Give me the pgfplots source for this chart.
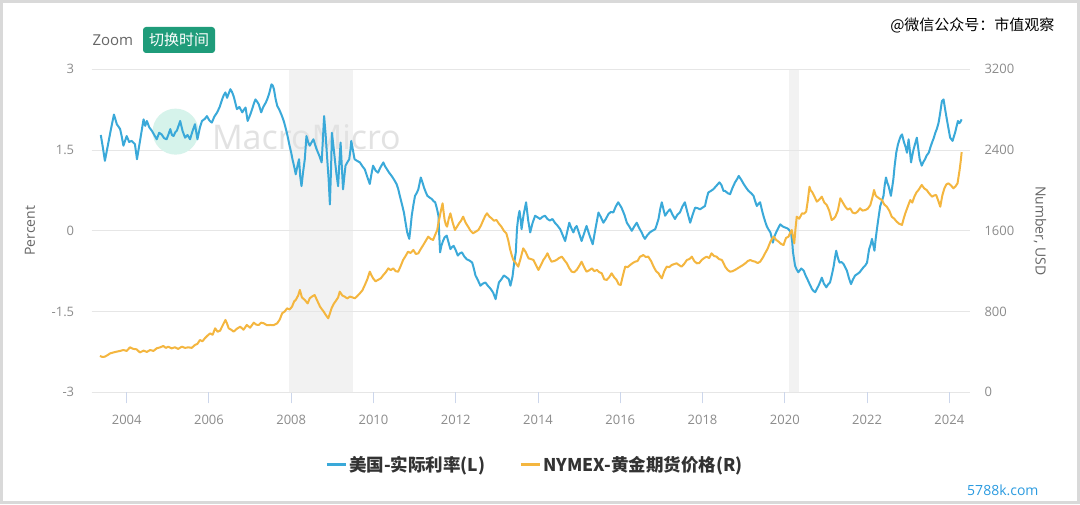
\documentclass[border=0pt]{standalone}
\usepackage{fontspec}
\setmainfont{Open Sans}
\newfontfamily\cjk{Noto Sans CJK SC}
\usepackage{pgfplots}
\pgfplotsset{compat=1.18}

\definecolor{rateblue}{RGB}{58,169,217}
\definecolor{goldline}{RGB}{244,182,63}
\definecolor{gridgray}{RGB}{230,230,230}
\definecolor{shadegray}{RGB}{242,242,242}
\definecolor{labelgray}{RGB}{140,140,140}
\definecolor{titlegray}{RGB}{102,102,102}
\definecolor{tickgray}{RGB}{204,214,235}
\definecolor{btngreen}{RGB}{31,156,122}
\definecolor{framegray}{RGB}{217,217,217}
\definecolor{siteblue}{RGB}{43,155,224}
\definecolor{mint}{RGB}{214,243,235}
\definecolor{wmgray}{RGB}{226,226,226}

% US real interest rate (L), percent
\pgfplotstableread{
x y
2003.37 1.78
2003.42 1.55
2003.47 1.30
2003.55 1.62
2003.62 1.90
2003.69 2.16
2003.76 1.98
2003.84 1.89
2003.88 1.75
2003.92 1.58
2004.00 1.76
2004.06 1.65
2004.12 1.67
2004.20 1.61
2004.25 1.33
2004.33 1.70
2004.41 2.07
2004.45 1.95
2004.49 2.04
2004.55 1.92
2004.61 1.86
2004.67 1.78
2004.73 1.70
2004.79 1.82
2004.85 1.79
2004.91 1.72
2004.97 1.70
2005.02 1.80
2005.06 1.89
2005.10 1.78
2005.14 1.76
2005.18 1.83
2005.22 1.86
2005.26 1.95
2005.30 2.04
2005.36 1.85
2005.42 1.73
2005.48 1.78
2005.54 1.70
2005.60 1.85
2005.66 1.98
2005.72 1.70
2005.78 1.92
2005.83 2.04
2005.90 2.08
2005.95 2.13
2006.01 2.05
2006.07 2.01
2006.13 2.12
2006.20 2.20
2006.26 2.30
2006.32 2.44
2006.36 2.52
2006.40 2.57
2006.44 2.47
2006.48 2.55
2006.52 2.63
2006.56 2.58
2006.60 2.50
2006.64 2.38
2006.68 2.26
2006.74 2.30
2006.81 2.20
2006.85 2.25
2006.89 2.29
2006.94 2.04
2007.00 2.15
2007.05 2.26
2007.09 2.36
2007.13 2.44
2007.17 2.40
2007.21 2.35
2007.27 2.20
2007.32 2.30
2007.38 2.38
2007.42 2.45
2007.46 2.54
2007.52 2.72
2007.55 2.70
2007.58 2.63
2007.62 2.45
2007.66 2.32
2007.71 2.25
2007.76 2.16
2007.80 2.08
2007.83 2.01
2007.90 1.80
2007.96 1.58
2008.00 1.45
2008.03 1.33
2008.07 1.20
2008.11 1.05
2008.15 1.20
2008.19 1.33
2008.22 1.00
2008.25 0.83
2008.29 1.10
2008.33 1.33
2008.37 1.76
2008.41 1.65
2008.45 1.58
2008.50 1.65
2008.54 1.70
2008.58 1.60
2008.62 1.51
2008.68 1.40
2008.74 1.27
2008.77 1.70
2008.80 2.13
2008.84 1.75
2008.87 1.39
2008.91 0.95
2008.94 0.49
2008.97 1.20
2008.99 1.82
2009.03 1.55
2009.06 1.33
2009.10 1.05
2009.14 0.83
2009.17 1.25
2009.20 1.64
2009.23 1.20
2009.26 0.77
2009.29 1.00
2009.32 1.21
2009.37 1.28
2009.41 1.33
2009.44 1.50
2009.46 1.67
2009.50 1.50
2009.54 1.33
2009.60 1.30
2009.67 1.27
2009.73 1.20
2009.79 1.14
2009.85 1.00
2009.91 0.87
2009.95 1.05
2009.99 1.21
2010.05 1.12
2010.11 1.08
2010.17 1.18
2010.24 1.27
2010.28 1.20
2010.33 1.14
2010.38 1.08
2010.44 1.02
2010.50 0.95
2010.56 0.87
2010.60 0.78
2010.64 0.65
2010.69 0.50
2010.74 0.34
2010.78 0.15
2010.82 -0.03
2010.87 -0.15
2010.90 0.05
2010.93 0.28
2010.97 0.48
2011.01 0.65
2011.05 0.70
2011.09 0.77
2011.12 0.88
2011.15 0.99
2011.19 0.90
2011.23 0.80
2011.27 0.72
2011.31 0.65
2011.36 0.62
2011.42 0.59
2011.46 0.55
2011.50 0.53
2011.54 0.42
2011.58 0.28
2011.60 -0.10
2011.62 -0.40
2011.65 -0.28
2011.69 -0.19
2011.73 -0.12
2011.78 -0.09
2011.82 -0.20
2011.87 -0.34
2011.91 -0.30
2011.95 -0.28
2012.00 -0.36
2012.05 -0.46
2012.10 -0.42
2012.15 -0.40
2012.21 -0.48
2012.27 -0.53
2012.33 -0.55
2012.40 -0.59
2012.44 -0.70
2012.48 -0.83
2012.54 -0.92
2012.60 -1.02
2012.66 -0.98
2012.72 -0.96
2012.78 -1.02
2012.85 -1.08
2012.91 -1.15
2012.97 -1.27
2013.01 -1.10
2013.05 -0.96
2013.11 -0.90
2013.17 -0.83
2013.23 -0.86
2013.29 -0.90
2013.33 -1.02
2013.38 -0.85
2013.42 -0.60
2013.46 -0.40
2013.49 0.05
2013.52 0.25
2013.55 0.37
2013.58 0.20
2013.60 0.03
2013.65 0.30
2013.71 0.53
2013.76 0.20
2013.81 -0.03
2013.87 0.15
2013.93 0.28
2013.99 0.25
2014.05 0.22
2014.11 0.26
2014.17 0.28
2014.23 0.22
2014.29 0.19
2014.35 0.22
2014.41 0.15
2014.47 0.10
2014.54 0.03
2014.60 -0.08
2014.66 -0.19
2014.71 -0.02
2014.76 0.15
2014.81 0.05
2014.86 -0.03
2014.90 0.05
2014.94 0.09
2015.00 -0.05
2015.06 -0.19
2015.12 -0.05
2015.18 0.09
2015.25 -0.08
2015.33 -0.25
2015.40 0.05
2015.47 0.34
2015.53 0.25
2015.59 0.15
2015.65 0.22
2015.71 0.31
2015.77 0.35
2015.83 0.34
2015.89 0.45
2015.95 0.53
2016.03 0.43
2016.10 0.30
2016.16 0.15
2016.22 0.08
2016.28 0.00
2016.34 0.08
2016.40 0.15
2016.46 0.05
2016.52 -0.03
2016.56 -0.10
2016.60 -0.15
2016.66 -0.08
2016.72 -0.03
2016.78 0.00
2016.85 0.03
2016.89 0.12
2016.93 0.22
2016.97 0.40
2017.01 0.53
2017.05 0.40
2017.09 0.28
2017.15 0.35
2017.21 0.40
2017.27 0.30
2017.33 0.22
2017.39 0.30
2017.45 0.34
2017.51 0.45
2017.57 0.53
2017.63 0.35
2017.70 0.15
2017.76 0.30
2017.82 0.43
2017.88 0.42
2017.94 0.40
2018.00 0.43
2018.06 0.46
2018.10 0.60
2018.14 0.71
2018.20 0.74
2018.26 0.77
2018.33 0.83
2018.41 0.90
2018.46 0.85
2018.51 0.74
2018.55 0.74
2018.61 0.70
2018.67 0.68
2018.73 0.80
2018.79 0.90
2018.84 0.96
2018.88 1.02
2018.94 0.95
2019.00 0.87
2019.06 0.80
2019.12 0.74
2019.18 0.70
2019.24 0.65
2019.28 0.55
2019.32 0.46
2019.36 0.50
2019.40 0.53
2019.44 0.40
2019.48 0.28
2019.52 0.18
2019.56 0.09
2019.60 0.03
2019.65 -0.03
2019.68 -0.12
2019.71 -0.22
2019.75 -0.10
2019.79 -0.03
2019.84 0.05
2019.89 0.12
2019.95 0.08
2020.01 0.06
2020.05 0.05
2020.09 0.03
2020.15 -0.03
2020.18 -0.20
2020.20 -0.40
2020.23 -0.55
2020.25 -0.65
2020.29 -0.72
2020.33 -0.77
2020.40 -0.70
2020.46 -0.74
2020.50 -0.82
2020.55 -0.90
2020.61 -1.00
2020.66 -1.08
2020.70 -1.12
2020.74 -1.14
2020.78 -1.08
2020.82 -1.02
2020.86 -0.95
2020.90 -0.87
2020.95 -0.98
2021.01 -1.05
2021.05 -1.00
2021.10 -0.96
2021.15 -0.80
2021.19 -0.65
2021.22 -0.50
2021.25 -0.37
2021.29 -0.50
2021.33 -0.59
2021.38 -0.58
2021.43 -0.62
2021.47 -0.68
2021.51 -0.74
2021.56 -0.88
2021.61 -0.99
2021.66 -0.90
2021.71 -0.83
2021.77 -0.80
2021.82 -0.77
2021.87 -0.72
2021.91 -0.68
2021.96 -0.64
2022.00 -0.59
2022.05 -0.34
2022.09 -0.25
2022.12 -0.15
2022.15 -0.26
2022.18 -0.37
2022.21 -0.15
2022.24 0.03
2022.28 0.25
2022.32 0.46
2022.36 0.55
2022.40 0.65
2022.43 0.85
2022.46 0.99
2022.49 0.90
2022.52 0.84
2022.55 0.75
2022.58 0.65
2022.61 0.80
2022.64 0.96
2022.67 1.20
2022.71 1.45
2022.75 1.60
2022.79 1.70
2022.82 1.76
2022.85 1.79
2022.88 1.70
2022.90 1.64
2022.94 1.55
2022.97 1.45
2023.01 1.70
2023.04 1.50
2023.07 1.27
2023.10 1.40
2023.13 1.51
2023.17 1.62
2023.21 1.73
2023.25 1.50
2023.28 1.33
2023.33 1.21
2023.37 1.28
2023.41 1.33
2023.45 1.40
2023.50 1.45
2023.54 1.55
2023.58 1.64
2023.62 1.72
2023.66 1.82
2023.70 1.90
2023.74 2.01
2023.78 2.20
2023.82 2.41
2023.86 2.44
2023.90 2.25
2023.94 2.07
2023.98 1.90
2024.02 1.73
2024.05 1.70
2024.08 1.67
2024.11 1.75
2024.14 1.82
2024.18 1.95
2024.21 2.04
2024.24 2.00
2024.26 2.01
2024.30 2.07
}\ratetable

% NYMEX gold futures (R), USD
\pgfplotstableread{
x y
2003.35 360
2003.41 350
2003.47 353
2003.54 370
2003.60 386
2003.68 395
2003.76 403
2003.84 410
2003.92 419
2004.00 410
2004.08 446
2004.16 430
2004.24 426
2004.32 395
2004.41 413
2004.49 400
2004.57 419
2004.65 410
2004.73 436
2004.81 445
2004.89 459
2004.95 440
2005.01 452
2005.09 435
2005.17 446
2005.25 430
2005.34 452
2005.42 440
2005.50 446
2005.58 440
2005.66 469
2005.72 480
2005.78 518
2005.84 505
2005.90 535
2005.96 560
2006.03 584
2006.09 570
2006.15 634
2006.21 600
2006.27 611
2006.33 660
2006.40 717
2006.44 680
2006.48 634
2006.54 620
2006.60 601
2006.68 630
2006.76 650
2006.84 620
2006.92 667
2007.00 640
2007.09 690
2007.15 670
2007.21 667
2007.27 690
2007.33 684
2007.41 665
2007.49 667
2007.57 665
2007.66 684
2007.72 720
2007.78 783
2007.84 800
2007.90 832
2007.96 820
2008.02 849
2008.07 900
2008.11 915
2008.17 960
2008.21 1014
2008.26 940
2008.33 915
2008.40 880
2008.45 931
2008.51 950
2008.57 964
2008.63 910
2008.70 849
2008.75 820
2008.79 799
2008.85 760
2008.90 733
2008.94 780
2008.98 832
2009.04 880
2009.10 915
2009.14 940
2009.18 997
2009.24 960
2009.30 948
2009.36 930
2009.43 948
2009.49 940
2009.55 931
2009.61 955
2009.67 981
2009.73 1010
2009.79 1063
2009.85 1120
2009.91 1195
2009.95 1160
2009.99 1129
2010.05 1100
2010.11 1113
2010.18 1130
2010.24 1162
2010.30 1190
2010.36 1228
2010.42 1210
2010.48 1228
2010.54 1200
2010.60 1195
2010.66 1250
2010.72 1311
2010.78 1350
2010.84 1393
2010.90 1380
2010.97 1410
2011.03 1370
2011.09 1377
2011.15 1420
2011.21 1459
2011.27 1500
2011.33 1542
2011.39 1520
2011.45 1509
2011.50 1560
2011.55 1608
2011.58 1680
2011.61 1740
2011.65 1820
2011.68 1872
2011.70 1800
2011.73 1707
2011.76 1660
2011.79 1641
2011.83 1720
2011.87 1773
2011.92 1690
2011.98 1608
2012.03 1640
2012.08 1674
2012.13 1700
2012.18 1740
2012.24 1680
2012.30 1641
2012.36 1600
2012.42 1575
2012.48 1590
2012.55 1608
2012.61 1650
2012.67 1707
2012.72 1750
2012.76 1773
2012.82 1740
2012.87 1724
2012.93 1700
2012.99 1707
2013.05 1670
2013.11 1641
2013.17 1600
2013.23 1575
2013.28 1500
2013.32 1420
2013.36 1360
2013.40 1311
2013.46 1280
2013.52 1245
2013.58 1330
2013.64 1426
2013.70 1390
2013.77 1327
2013.83 1320
2013.89 1311
2013.95 1260
2014.01 1212
2014.07 1260
2014.13 1311
2014.18 1340
2014.23 1377
2014.28 1330
2014.33 1294
2014.39 1300
2014.45 1311
2014.51 1330
2014.58 1344
2014.64 1310
2014.70 1278
2014.76 1230
2014.82 1195
2014.88 1190
2014.94 1212
2015.00 1250
2015.06 1294
2015.12 1240
2015.18 1195
2015.25 1210
2015.31 1228
2015.37 1200
2015.43 1212
2015.49 1190
2015.55 1179
2015.61 1120
2015.67 1113
2015.73 1140
2015.79 1179
2015.85 1140
2015.91 1113
2015.96 1070
2016.01 1063
2016.06 1150
2016.12 1245
2016.18 1240
2016.24 1261
2016.30 1280
2016.36 1294
2016.42 1300
2016.48 1344
2016.52 1350
2016.56 1360
2016.62 1340
2016.68 1344
2016.75 1300
2016.81 1245
2016.87 1200
2016.93 1179
2016.97 1150
2017.01 1129
2017.07 1200
2017.13 1245
2017.19 1240
2017.25 1261
2017.31 1270
2017.37 1278
2017.43 1260
2017.49 1245
2017.55 1270
2017.62 1311
2017.68 1320
2017.74 1344
2017.80 1300
2017.86 1278
2017.92 1280
2017.98 1311
2018.04 1330
2018.10 1344
2018.16 1330
2018.22 1377
2018.28 1350
2018.34 1344
2018.40 1320
2018.47 1311
2018.51 1280
2018.55 1245
2018.61 1212
2018.67 1195
2018.73 1200
2018.79 1212
2018.86 1230
2018.92 1245
2018.98 1260
2019.04 1278
2019.10 1300
2019.16 1311
2019.22 1300
2019.28 1294
2019.34 1280
2019.40 1294
2019.46 1330
2019.52 1377
2019.58 1420
2019.65 1492
2019.69 1520
2019.73 1542
2019.79 1510
2019.85 1492
2019.91 1470
2019.97 1459
2020.03 1530
2020.09 1542
2020.13 1580
2020.17 1608
2020.20 1540
2020.23 1476
2020.26 1620
2020.29 1740
2020.35 1720
2020.42 1773
2020.47 1770
2020.52 1790
2020.56 1900
2020.60 2037
2020.63 2000
2020.66 1988
2020.72 1940
2020.78 1889
2020.84 1910
2020.90 1938
2020.96 1880
2021.02 1856
2021.08 1800
2021.14 1707
2021.19 1720
2021.23 1740
2021.29 1800
2021.35 1922
2021.41 1880
2021.47 1839
2021.53 1810
2021.59 1823
2021.65 1780
2021.71 1773
2021.77 1790
2021.83 1823
2021.89 1800
2021.96 1806
2022.02 1820
2022.08 1856
2022.13 1930
2022.17 2004
2022.21 1950
2022.24 1938
2022.30 1920
2022.36 1905
2022.42 1860
2022.48 1839
2022.54 1800
2022.60 1740
2022.66 1720
2022.72 1691
2022.78 1670
2022.85 1658
2022.89 1720
2022.93 1773
2022.99 1840
2023.05 1905
2023.10 1880
2023.15 1938
2023.20 1980
2023.25 2004
2023.33 2054
2023.39 2020
2023.45 2004
2023.51 1970
2023.58 1938
2023.63 1950
2023.68 1955
2023.73 1900
2023.78 1839
2023.83 1950
2023.88 2021
2023.93 2060
2023.98 2070
2024.04 2050
2024.10 2021
2024.15 2040
2024.20 2070
2024.23 2150
2024.25 2202
2024.28 2300
2024.30 2380
}\goldtable

\begin{document}
\begin{tikzpicture}
% canvas and frame
\fill[white] (0pt,0pt) rectangle (1080pt,504pt);
\draw[framegray, line width=3pt] (1.5pt,1.5pt) rectangle (1078.5pt,502.5pt);

% header
\node[anchor=west, text=titlegray, font=\fontsize{15}{15}\selectfont] at (89pt,464pt) {Zoom};
\fill[btngreen, rounded corners=3pt] (143pt,451pt) rectangle (215pt,477pt);
\node[text=white, font=\cjk\fontsize{15}{15}\selectfont] at (179pt,464pt) {切换时间};
\node[anchor=east, font=\cjk\fontsize{15}{15}\selectfont] at (1058pt,479pt) {@微信公众号：市值观察};
\node[anchor=east, text=siteblue, font=\fontsize{14}{14}\selectfont] at (1042pt,14pt) {5788k.com};

\pgfplotsset{
  commonaxis/.style={
    at={(91.7pt,111.7pt)}, anchor=south west,
    scale only axis, width=878.3pt, height=323pt,
    xmin=2003.149, xmax=2024.503,
    axis line style={draw=none},
    tick label style={font=\fontsize{13}{13}\selectfont, text=labelgray},
    label style={font=\fontsize{14}{14}\selectfont, text=titlegray},
    ytick style={draw=none},
  }
}

\begin{axis}[commonaxis,
  ymin=-3, ymax=3,
  ytick={-3,-1.5,0,1.5,3},
  yticklabels={-3,-1.5,0,1.5,3},
  ytick pos=left,
  yticklabel style={xshift=-14pt},
  xtick={2004,2006,...,2024},
  xticklabels={2004,2006,2008,2010,2012,2014,2016,2018,2020,2022,2024},
  xtick pos=bottom,
  xtick align=outside,
  major tick length=11pt,
  xtick style={draw=tickgray, line width=1pt},
  xticklabel style={yshift=-8pt},
  ymajorgrids,
  grid style={gridgray, line width=1pt},
  ylabel={Percent},
  ylabel style={at={(axis description cs:-0.0703,0.5)}, anchor=center},
]
% recession shading, grid redrawn across it
\fill[shadegray] (axis cs:2007.95,-3) rectangle (axis cs:2009.5,3);
\fill[shadegray] (axis cs:2020.11,-3) rectangle (axis cs:2020.35,3);
\pgfplotsinvokeforeach{-3,-1.5,0,1.5,3}{
  \draw[gridgray, line width=1pt] (axis cs:2007.95,#1) -- (axis cs:2009.5,#1);
  \draw[gridgray, line width=1pt] (axis cs:2020.11,#1) -- (axis cs:2020.35,#1);
}
% MacroMicro watermark
\fill[mint] (rel axis cs:0.0955,0.807) circle[radius=23pt];
\node[anchor=west, text=wmgray, font=\fontsize{34}{34}\selectfont] at (rel axis cs:0.133,0.79) {MacroMicro};
\addplot[rateblue, line width=2pt, line join=round] table[x=x, y=y] {\ratetable};
\end{axis}

\begin{axis}[commonaxis,
  ymin=0, ymax=3200,
  ytick={0,800,1600,2400,3200},
  yticklabels={0,800,1600,2400,3200},
  ytick pos=right,
  yticklabel pos=right,
  yticklabel style={xshift=11pt},
  xtick=\empty,
  ylabel={Number, USD},
  ylabel style={at={(axis description cs:1.0797,0.5)}, anchor=center, rotate=180},
  legend style={at={(0.5047,-0.225)}, anchor=center, draw=none, fill=none,
    font=\cjk\bfseries\fontsize{17.5}{17.5}\selectfont, text=black!80,
    /tikz/every even column/.append style={column sep=32pt}},
  legend columns=2,
  legend image code/.code={\draw[#1, line width=3pt] (0pt,0pt) -- (19pt,0pt);},
]
\addlegendimage{rateblue}
\addlegendentry{美国-实际利率(L)}
\addplot[goldline, line width=2pt, line join=round] table[x=x, y=y] {\goldtable};
\addlegendentry{NYMEX-黄金期货价格(R)}
\end{axis}
\end{tikzpicture}
\end{document}
